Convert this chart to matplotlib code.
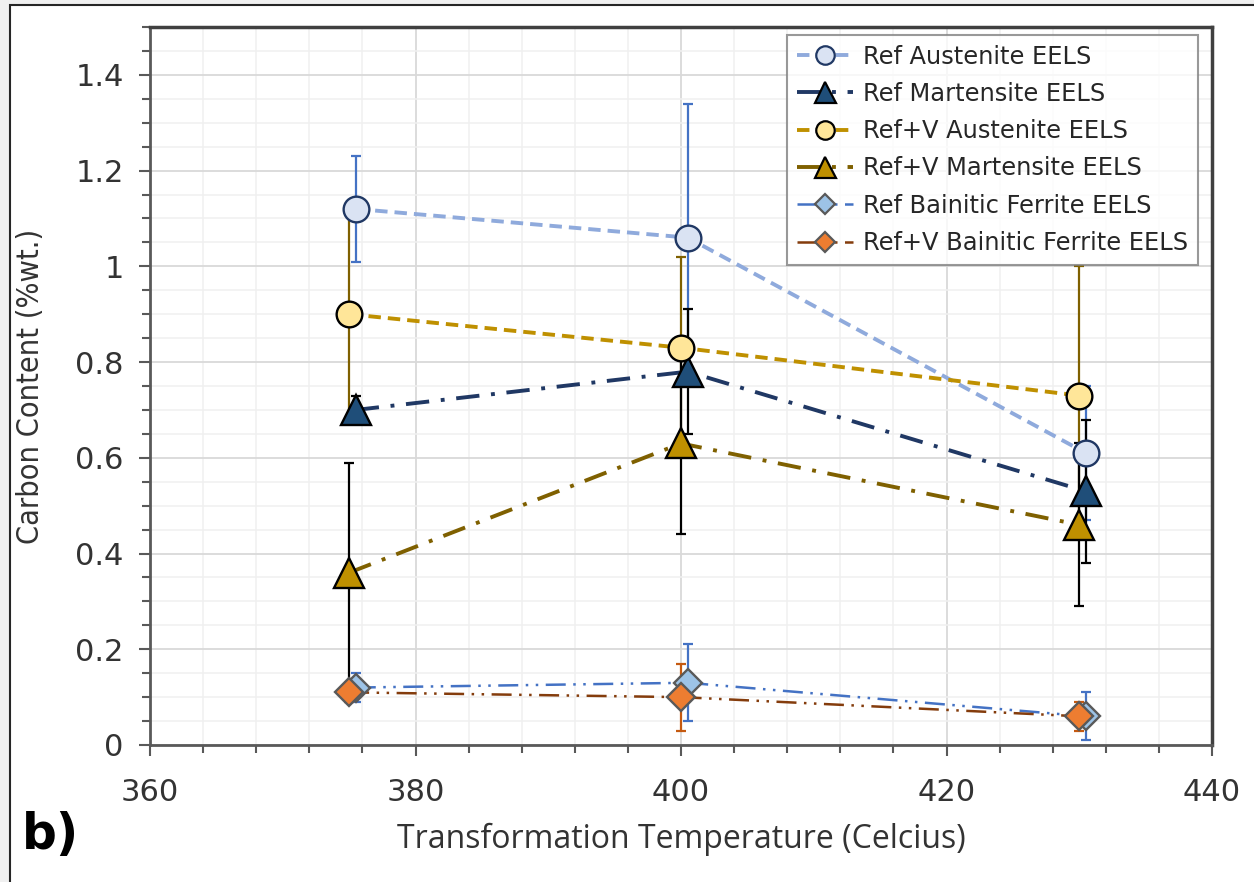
import matplotlib
matplotlib.use('Agg')
import matplotlib.pyplot as plt
import matplotlib.ticker as ticker
from matplotlib.patches import Rectangle

# temperatures (Celcius), Ref series sit slightly right of the Ref+V series
temps_ref = [375.5, 400.5, 430.5]
temps_refv = [375, 400, 430]

# carbon content (%wt.) and error half-widths
ref_aus = [1.12, 1.06, 0.61]
ref_aus_err = [0.11, 0.28, 0.14]
ref_mart = [0.70, 0.78, 0.53]
ref_mart_err = [0.03, 0.13, 0.15]
refv_aus = [0.90, 0.83, 0.73]
refv_aus_err = [0.22, 0.19, 0.27]
refv_mart = [0.36, 0.63, 0.46]
refv_mart_err = [0.23, 0.19, 0.17]
ref_bf = [0.12, 0.13, 0.06]
ref_bf_err = [0.03, 0.08, 0.05]
refv_bf = [0.11, 0.10, 0.06]
refv_bf_err = [0.02, 0.07, 0.03]

labels = ['Ref Austenite EELS', 'Ref Martensite EELS', 'Ref+V Austenite EELS',
          'Ref+V Martensite EELS', 'Ref Bainitic Ferrite EELS',
          'Ref+V Bainitic Ferrite EELS']

y_ticks = [0, 0.2, 0.4, 0.6, 0.8, 1.0, 1.2, 1.4]
y_tick_labels = ['0', '0.2', '0.4', '0.6', '0.8', '1', '1.2', '1.4']
x_ticks = [360, 380, 400, 420, 440]

fig = plt.figure(figsize=(12.54, 8.82), dpi=100)
fig.patch.set_facecolor('#f0f0f0')
frame = Rectangle((10 / 1254, -0.1), 1.2, 1.1 - 5 / 882,
                  transform=fig.transFigure, facecolor='white',
                  edgecolor='#262626', linewidth=1.5, zorder=-10)
fig.patches.append(frame)

ax = fig.add_axes([150 / 1254, 1 - 745 / 882, 1062 / 1254, 718 / 882])

# (x, y, err, line colour, linestyle, lw, marker, ms, face, edge, err colour)
series = [
  (temps_ref, ref_aus, ref_aus_err, '#8faadc', (0, (3.2, 1.8)), 2.8, 'o', 18.5, '#dae3f3', '#203864', '#4472c4'),
  (temps_ref, ref_mart, ref_mart_err, '#203864', (0, (6, 3, 1, 3)), 2.8, '^', 21, '#1f4e79', 'black', 'black'),
  (temps_refv, refv_aus, refv_aus_err, '#bf9000', (0, (3.2, 1.8)), 2.8, 'o', 18.5, '#ffe699', 'black', '#7f6000'),
  (temps_refv, refv_mart, refv_mart_err, '#7f6000', (0, (6, 3, 1, 3)), 2.8, '^', 21, '#bf9000', 'black', 'black'),
  (temps_ref, ref_bf, ref_bf_err, '#4472c4', (0, (8, 3, 1, 3, 1, 3)), 1.8, 'D', 14, '#9dc3e6', '#595959', '#4472c4'),
  (temps_refv, refv_bf, refv_bf_err, '#843c0c', (0, (8, 3, 1, 3, 1, 3)), 1.8, 'D', 14, '#ed7d31', '#595959', '#c55a11'),
]

handles = []
for i, (x, y, e, lc, ls, lw, mk, ms, fc, ec, erc) in enumerate(series):
  ax.errorbar(x, y, yerr=e, fmt='none', ecolor=erc, elinewidth=1.6,
              capsize=3.5, capthick=1.6, zorder=2 + i * 0.01)
  ax.plot(x, y, color=lc, linestyle=ls, linewidth=lw, zorder=3 + i * 0.01)
  ax.plot(x, y, linestyle='none', marker=mk, markersize=ms,
          markerfacecolor=fc, markeredgecolor=ec, markeredgewidth=1.7,
          zorder=4 + i * 0.01)
  h, = ax.plot([], [], color=lc, linestyle=ls, linewidth=lw, marker=mk,
               markersize=ms * 0.72, markerfacecolor=fc, markeredgecolor=ec,
               markeredgewidth=1.6)
  handles.append(h)

ax.set_xlim(360, 440)
ax.set_ylim(0, 1.5)
ax.set_xticks(x_ticks)
ax.set_yticks(y_ticks)
ax.set_yticklabels(y_tick_labels)
ax.xaxis.set_minor_locator(ticker.MultipleLocator(4))
ax.yaxis.set_minor_locator(ticker.MultipleLocator(0.05))

ax.grid(which='major', color='#d9d9d9', linewidth=1.3, zorder=0)
ax.grid(which='minor', color='#f0f0f0', linewidth=1.1, zorder=0)
ax.set_axisbelow(True)

for lab in ax.get_xticklabels() + ax.get_yticklabels():
  lab.set_fontfamily('DejaVu Sans')
  lab.set_fontsize(22)
  lab.set_color('#333333')
ax.tick_params(which='major', direction='out', length=8, width=1.5,
               color='#595959')
ax.tick_params(which='minor', direction='out', length=6, width=1.5,
               color='#595959')
ax.tick_params(axis='x', which='major', pad=16)
ax.tick_params(axis='y', which='major', pad=11)

for side in ['left', 'bottom']:
  ax.spines[side].set_color('#595959')
  ax.spines[side].set_linewidth(2)
for side in ['top', 'right']:
  ax.spines[side].set_color('#404040')
  ax.spines[side].set_linewidth(2.5)

ax.set_xlabel('Transformation Temperature (Celcius)', fontfamily='Open Sans',
              fontsize=23, color='#333333', labelpad=11)
ax.set_ylabel('Carbon Content (%wt.)', fontfamily='DejaVu Sans',
              fontstretch='condensed', fontsize=22, color='#333333',
              labelpad=22)

leg = ax.legend(handles, labels, loc='upper right',
                bbox_to_anchor=(0.987, 0.989), borderaxespad=0,
                prop={'family': 'DejaVu Sans', 'size': 17.4},
                frameon=True, fancybox=False, edgecolor='#808080',
                handlelength=2.3, handletextpad=0.45, labelspacing=0.55,
                borderpad=0.4)
leg.get_frame().set_linewidth(1.5)
for t in leg.get_texts():
  t.set_color('#262626')

fig.text(22 / 1254, 1 - 849 / 882, 'b)', fontsize=35, fontweight='bold',
         fontfamily='DejaVu Sans', color='black')

plt.savefig('out.png', dpi=100)
